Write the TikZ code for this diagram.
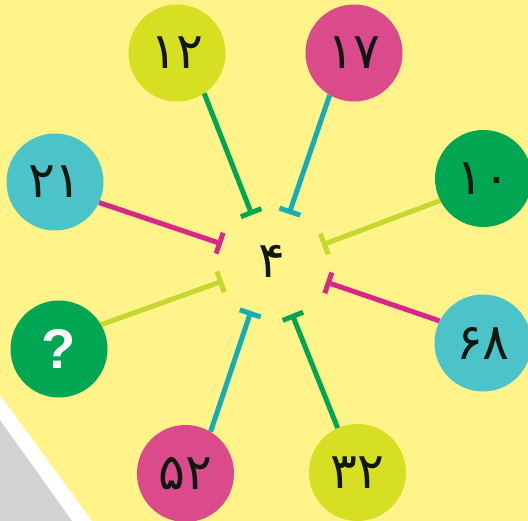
\documentclass[tikz,border=0pt]{standalone}
\usepackage{fontspec}
\newfontfamily\fa{DejaVu Sans}
\newfontfamily\qfont{Liberation Sans}
\usetikzlibrary{arrows.meta}
\definecolor{bgyellow}{HTML}{FFF38A}
\definecolor{lgray}{HTML}{D1D2D4}
\definecolor{clime}{HTML}{D7DF23}
\definecolor{cpink}{HTML}{DB4A8A}
\definecolor{ccyan}{HTML}{4CC3C9}
\definecolor{cgreen}{HTML}{00A651}
\definecolor{llime}{HTML}{C6D72E}
\definecolor{lpink}{HTML}{D9268A}
\definecolor{lcyan}{HTML}{12ADB6}
\definecolor{lgreen}{HTML}{00A651}
\definecolor{txt}{HTML}{0E1710}
\tikzset{
  num/.style={circle, minimum size=97pt, inner sep=0pt, text=txt, font=\fa\fontsize{50}{50}\selectfont},
  conn/.style={line width=5pt, -{Bar[width=22pt]}},
}
\begin{document}
\begin{tikzpicture}[x=1pt,y=-1pt]
\useasboundingbox (0,0) rectangle (528,521);
\fill[bgyellow] (0,0) rectangle (528,521);
\fill[white] (0,395) -- (92,521) -- (0,521) -- cycle;
\fill[lgray] (0,420) -- (72,521) -- (0,521) -- cycle;

\node[font=\fa\fontsize{50}{50}\selectfont, text=txt] (mid) at (272,261) {۴};

\node[num, fill=clime] (c12) at (177,53) {۱۲};
\node[num, fill=cpink] (c17) at (354,53) {۱۷};
\node[num, fill=ccyan] (c21) at (55,182) {۲۱};
\node[num, fill=cgreen, text=white, font=\qfont\bfseries\fontsize{56}{56}\selectfont] (cq) at (59,349) {?};
\node[num, fill=cgreen] (c10) at (483.5,178.5) {۱۰};
\node[num, fill=ccyan] (c68) at (483,343) {۶۸};
\node[num, fill=cpink] (c52) at (185.5,473.5) {۵۲};
\node[num, fill=clime] (c32) at (357.5,472.5) {۳۲};

\coordinate (e12) at (252,215);
\coordinate (e17) at (289,214);
\coordinate (e21) at (222,244);
\coordinate (eq) at (223,281);
\coordinate (e10) at (322,245);
\coordinate (e68) at (326,282);
\coordinate (e52) at (251,311);
\coordinate (e32) at (292,314);

\draw[conn, lgreen] (c12.304) -- (e12);
\draw[conn, lcyan] (c17.240) -- (e17);
\draw[conn, lpink] (c21.335) -- (e21);
\draw[conn, llime] (cq.30) -- (eq);
\draw[conn, llime] (c10.207) -- (e10);
\draw[conn, lpink] (c68.153) -- (e68);
\draw[conn, lcyan] (c52.59) -- (e52);
\draw[conn, lgreen] (c32.114) -- (e32);
\end{tikzpicture}
\end{document}
